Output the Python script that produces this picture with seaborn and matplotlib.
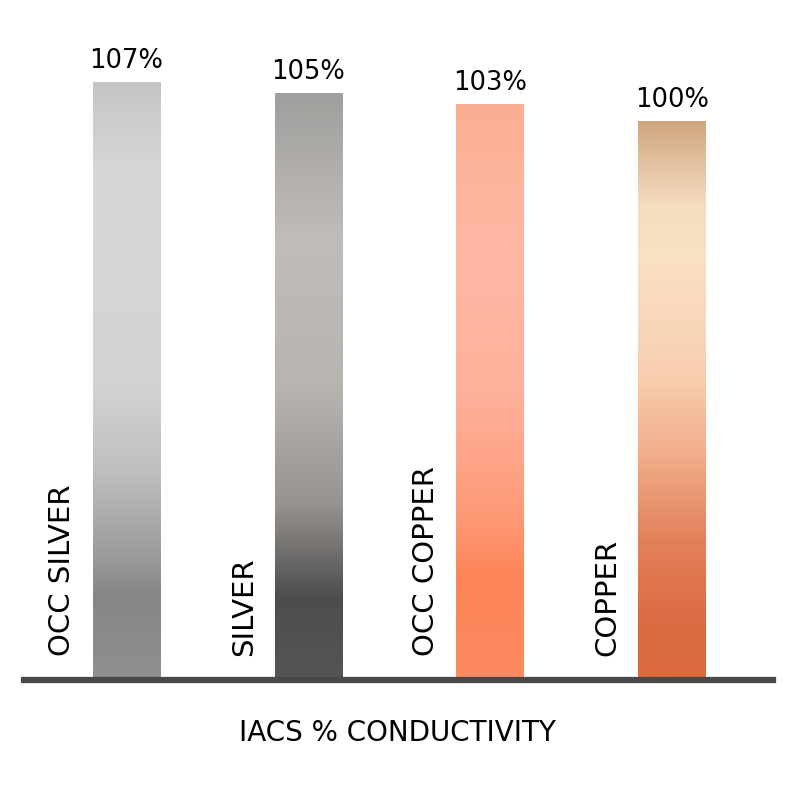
import numpy as np
import pandas as pd
import matplotlib
matplotlib.use("Agg")
import matplotlib.pyplot as plt
import seaborn as sns
from matplotlib.colors import LinearSegmentedColormap

# data
materials = ["OCC SILVER", "SILVER", "OCC COPPER", "COPPER"]
conductivity = [107, 105, 103, 100]
axis_title = "IACS % CONDUCTIVITY"

# gradient stops per bar, (fraction from top, colour)
gradients = [
    [(0.0, "#c5c5c4"), (0.15, "#d8d7d5"), (0.5, "#d5d4d2"), (0.65, "#c0bfbd"),
     (0.8, "#9a9a98"), (0.86, "#868686"), (1.0, "#909090")],
    [(0.0, "#a09f9d"), (0.25, "#c0bcb9"), (0.5, "#b8b5b1"), (0.7, "#969390"),
     (0.8, "#6a6866"), (0.86, "#4d4d4c"), (1.0, "#555555")],
    [(0.0, "#fbae92"), (0.25, "#ffb8a5"), (0.5, "#ffb09c"), (0.7, "#fe9c7a"),
     (0.82, "#fd8559"), (1.0, "#fe8a60")],
    [(0.0, "#cfa57e"), (0.15, "#f6dcc1"), (0.25, "#fae0c5"), (0.45, "#f8cfb0"),
     (0.6, "#f1ad8a"), (0.75, "#e3815c"), (0.9, "#dc6a42"), (1.0, "#dc6a3e")],
]

sns.set_style("white")
plt.rcParams['font.family'] = ['DejaVu Sans']

df = pd.DataFrame({"material": materials, "value": conductivity})

fig = plt.figure(figsize=(8, 7.99), dpi=100)
ax = fig.add_axes([0.03, (799 - 680) / 799, 0.93625, 680 / 799])

sns.barplot(data=df, x="material", y="value", ax=ax, width=0.37,
            color="white", linewidth=0, saturation=1)

grad = np.linspace(0, 1, 256).reshape(-1, 1)
for patch, stops, name, val in zip(ax.patches, gradients, materials, conductivity):
    x0, w, h = patch.get_x(), patch.get_width(), patch.get_height()
    cmap = LinearSegmentedColormap.from_list("g", stops)
    img = ax.imshow(grad, cmap=cmap, aspect="auto", origin="upper",
                    extent=[x0, x0 + w, 0, h], zorder=2)
    img.set_clip_path(patch)
    patch.set_facecolor("none")
    # value on top
    ax.text(x0 + w / 2, h + 1.4, f"{val}%", ha="center", va="bottom",
            fontsize=18.5, color="black")
    # rotated name left of bar
    ax.text(x0 - 0.168, 4.3, name, rotation=90, ha="center", va="bottom",
            fontsize=21, color="black")

ax.set_xlim(-0.564, 3.558)
ax.set_ylim(0, 680 / 5.59)

for s in ["top", "right", "left"]:
    ax.spines[s].set_visible(False)
ax.spines["bottom"].set_color("#484848")
ax.spines["bottom"].set_linewidth(4.5)
ax.spines["bottom"].set_zorder(5)
ax.set_xticks([])
ax.set_yticks([])
ax.set_xlabel("")
ax.set_ylabel("")

fig.text(0.497, 1 - 733 / 799, axis_title, ha="center", va="center",
         fontsize=20, color="black")

fig.savefig("out.png", dpi=100)
